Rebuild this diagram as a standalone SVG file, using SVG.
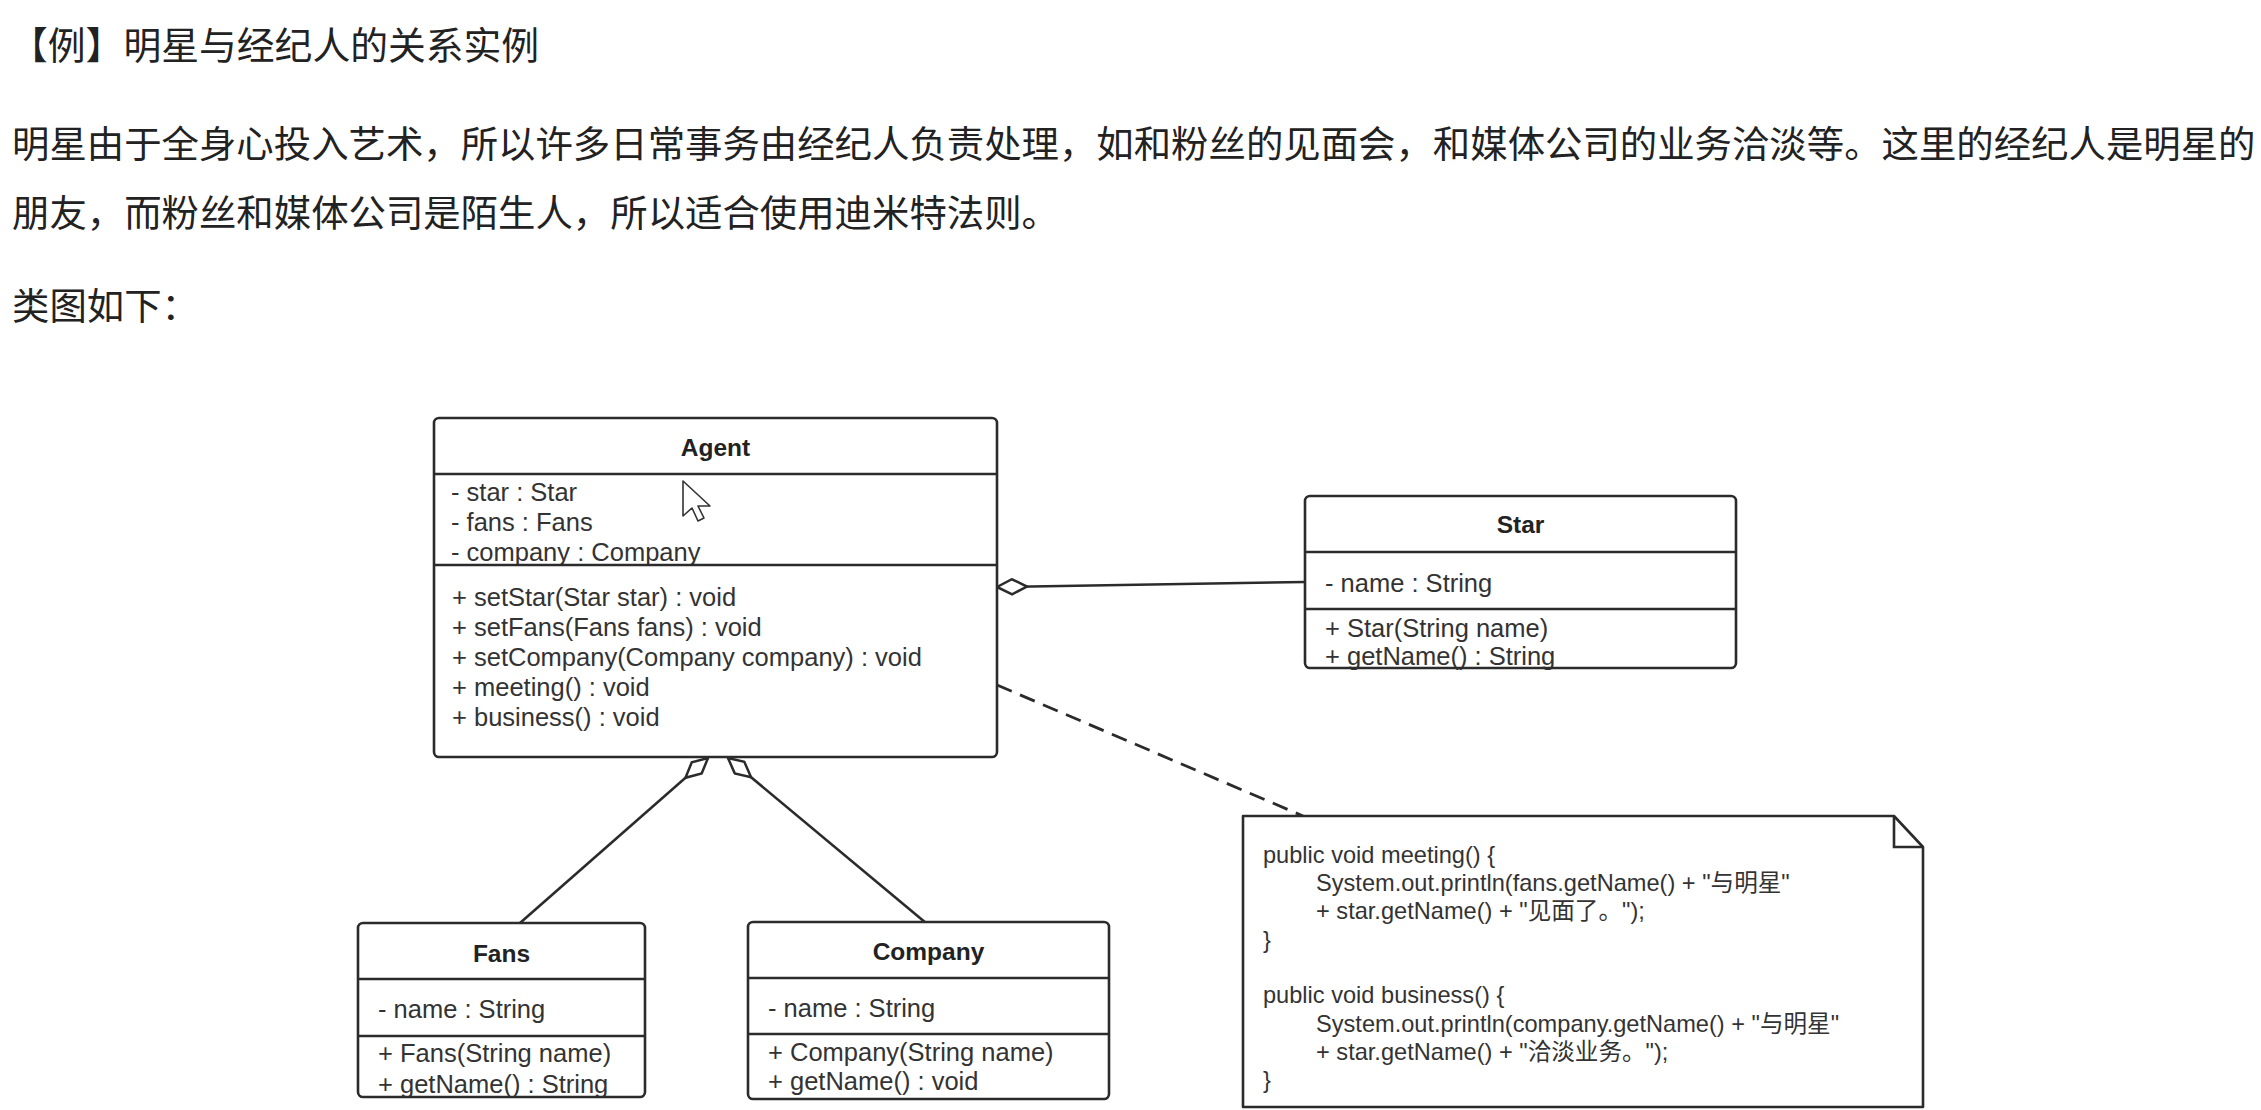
<svg xmlns="http://www.w3.org/2000/svg" width="2261" height="1110" viewBox="0 0 2261 1110">
<style>
.bg { fill:#ffffff; }
.cjk { font-family:"Noto Sans CJK SC", "Noto Sans CJK TC", sans-serif; font-size:37.4px; fill:#222222; }
.box { fill:#ffffff; stroke:none; }
.frame { fill:none; stroke:#2b2b2b; stroke-width:2.6; }
.div { stroke:#2b2b2b; stroke-width:2.6; }
.t { font-family:"Liberation Sans", "Noto Sans CJK SC", sans-serif; font-size:25.5px; fill:#333333; }
.n { font-family:"Liberation Sans", "Noto Sans CJK SC", sans-serif; font-size:24.5px; font-weight:bold; fill:#222222; text-anchor:middle; }
.code { font-family:"Liberation Sans", "Noto Sans CJK SC", sans-serif; font-size:23.6px; fill:#333333; }
.line { fill:none; stroke:#2b2b2b; stroke-width:2.6; }
.dash { fill:none; stroke:#2b2b2b; stroke-width:2.8; stroke-dasharray:16 9; }
</style>
<defs>
<marker id="odiamond" markerUnits="userSpaceOnUse" viewBox="0 0 34 18" markerWidth="34" markerHeight="18" refX="1" refY="9" orient="auto">
<path d="M1,9 L16,1.5 L31,9 L16,16.5 Z" fill="#ffffff" stroke="#2b2b2b" stroke-width="2.5"/>
</marker>
</defs>
<rect class="bg" x="0" y="0" width="2261" height="1110"/>

<g id="intro">
<text class="cjk" x="10" y="59" style="font-size:37.8px">【例】明星与经纪人的关系实例</text>
<text class="cjk" x="12" y="158">明星由于全身心投入艺术，所以许多日常事务由经纪人负责处理，如和粉丝的见面会，和媒体公司的业务洽淡等。这里的经纪人是明星的</text>
<text class="cjk" x="12" y="227">朋友，而粉丝和媒体公司是陌生人，所以适合使用迪米特法则。</text>
<text class="cjk" x="12" y="320">类图如下：</text>
</g>

<g id="connectors">
<path class="line" d="M997,587 L1305,582" marker-start="url(#odiamond)"/>
<path class="line" d="M708,758 L520,923" marker-start="url(#odiamond)"/>
<path class="line" d="M728,758 L926,923" marker-start="url(#odiamond)"/>
<path class="dash" d="M997,685 L1303,816"/>
</g>

<g id="agent">
<rect class="box" x="434" y="418" width="563" height="339" rx="5"/>
<text class="n" x="715.5" y="456">Agent</text>
<text class="t" x="451" y="501">- star : Star</text>
<text class="t" x="451" y="531">- fans : Fans</text>
<text class="t" x="451" y="561">- company : Company</text>
<text class="t" x="452" y="606">+ setStar(Star star) : void</text>
<text class="t" x="452" y="636">+ setFans(Fans fans) : void</text>
<text class="t" x="452" y="666">+ setCompany(Company company) : void</text>
<text class="t" x="452" y="696">+ meeting() : void</text>
<text class="t" x="452" y="726">+ business() : void</text>
<line class="div" x1="434" y1="474" x2="997" y2="474"/>
<line class="div" x1="434" y1="565" x2="997" y2="565"/>
<rect class="frame" x="434" y="418" width="563" height="339" rx="5"/>
<path d="M683,481 L683,516 L692,508 L698,521 L704,518 L698,506 L710,506 Z" fill="#ffffff" stroke="#333333" stroke-width="1.6" stroke-linejoin="round"/>
</g>

<g id="star">
<rect class="box" x="1305" y="496" width="431" height="172" rx="5"/>
<text class="n" x="1520.5" y="533">Star</text>
<text class="t" x="1325" y="592">- name : String</text>
<text class="t" x="1325" y="637">+ Star(String name)</text>
<text class="t" x="1325" y="665">+ getName() : String</text>
<line class="div" x1="1305" y1="552" x2="1736" y2="552"/>
<line class="div" x1="1305" y1="609" x2="1736" y2="609"/>
<rect class="frame" x="1305" y="496" width="431" height="172" rx="5"/>
</g>

<g id="fans">
<rect class="box" x="358" y="923" width="287" height="174" rx="5"/>
<text class="n" x="501.5" y="962">Fans</text>
<text class="t" x="378" y="1018">- name : String</text>
<text class="t" x="378" y="1062">+ Fans(String name)</text>
<text class="t" x="378" y="1093">+ getName() : String</text>
<line class="div" x1="358" y1="979" x2="645" y2="979"/>
<line class="div" x1="358" y1="1036" x2="645" y2="1036"/>
<rect class="frame" x="358" y="923" width="287" height="174" rx="5"/>
</g>

<g id="company">
<rect class="box" x="748" y="922" width="361" height="177" rx="5"/>
<text class="n" x="928.5" y="960">Company</text>
<text class="t" x="768" y="1017">- name : String</text>
<text class="t" x="768" y="1061">+ Company(String name)</text>
<text class="t" x="768" y="1090">+ getName() : void</text>
<line class="div" x1="748" y1="978" x2="1109" y2="978"/>
<line class="div" x1="748" y1="1034" x2="1109" y2="1034"/>
<rect class="frame" x="748" y="922" width="361" height="177" rx="5"/>
</g>

<g id="note">
<path d="M1243,816 L1894,816 L1923,847 L1923,1107 L1243,1107 Z" fill="#ffffff" stroke="#2b2b2b" stroke-width="2.6" stroke-linejoin="round"/>
<path d="M1894,816 L1894,847 L1923,847" fill="none" stroke="#2b2b2b" stroke-width="2.6"/>
<text class="code" x="1263" y="863">public void meeting() {</text>
<text class="code" x="1316" y="891">System.out.println(fans.getName() + "与明星"</text>
<text class="code" x="1316" y="919">+ star.getName() + "见面了。");</text>
<text class="code" x="1263" y="948">}</text>
<text class="code" x="1263" y="1003">public void business() {</text>
<text class="code" x="1316" y="1032">System.out.println(company.getName() + "与明星"</text>
<text class="code" x="1316" y="1060">+ star.getName() + "洽淡业务。");</text>
<text class="code" x="1263" y="1088">}</text>
</g>
</svg>
